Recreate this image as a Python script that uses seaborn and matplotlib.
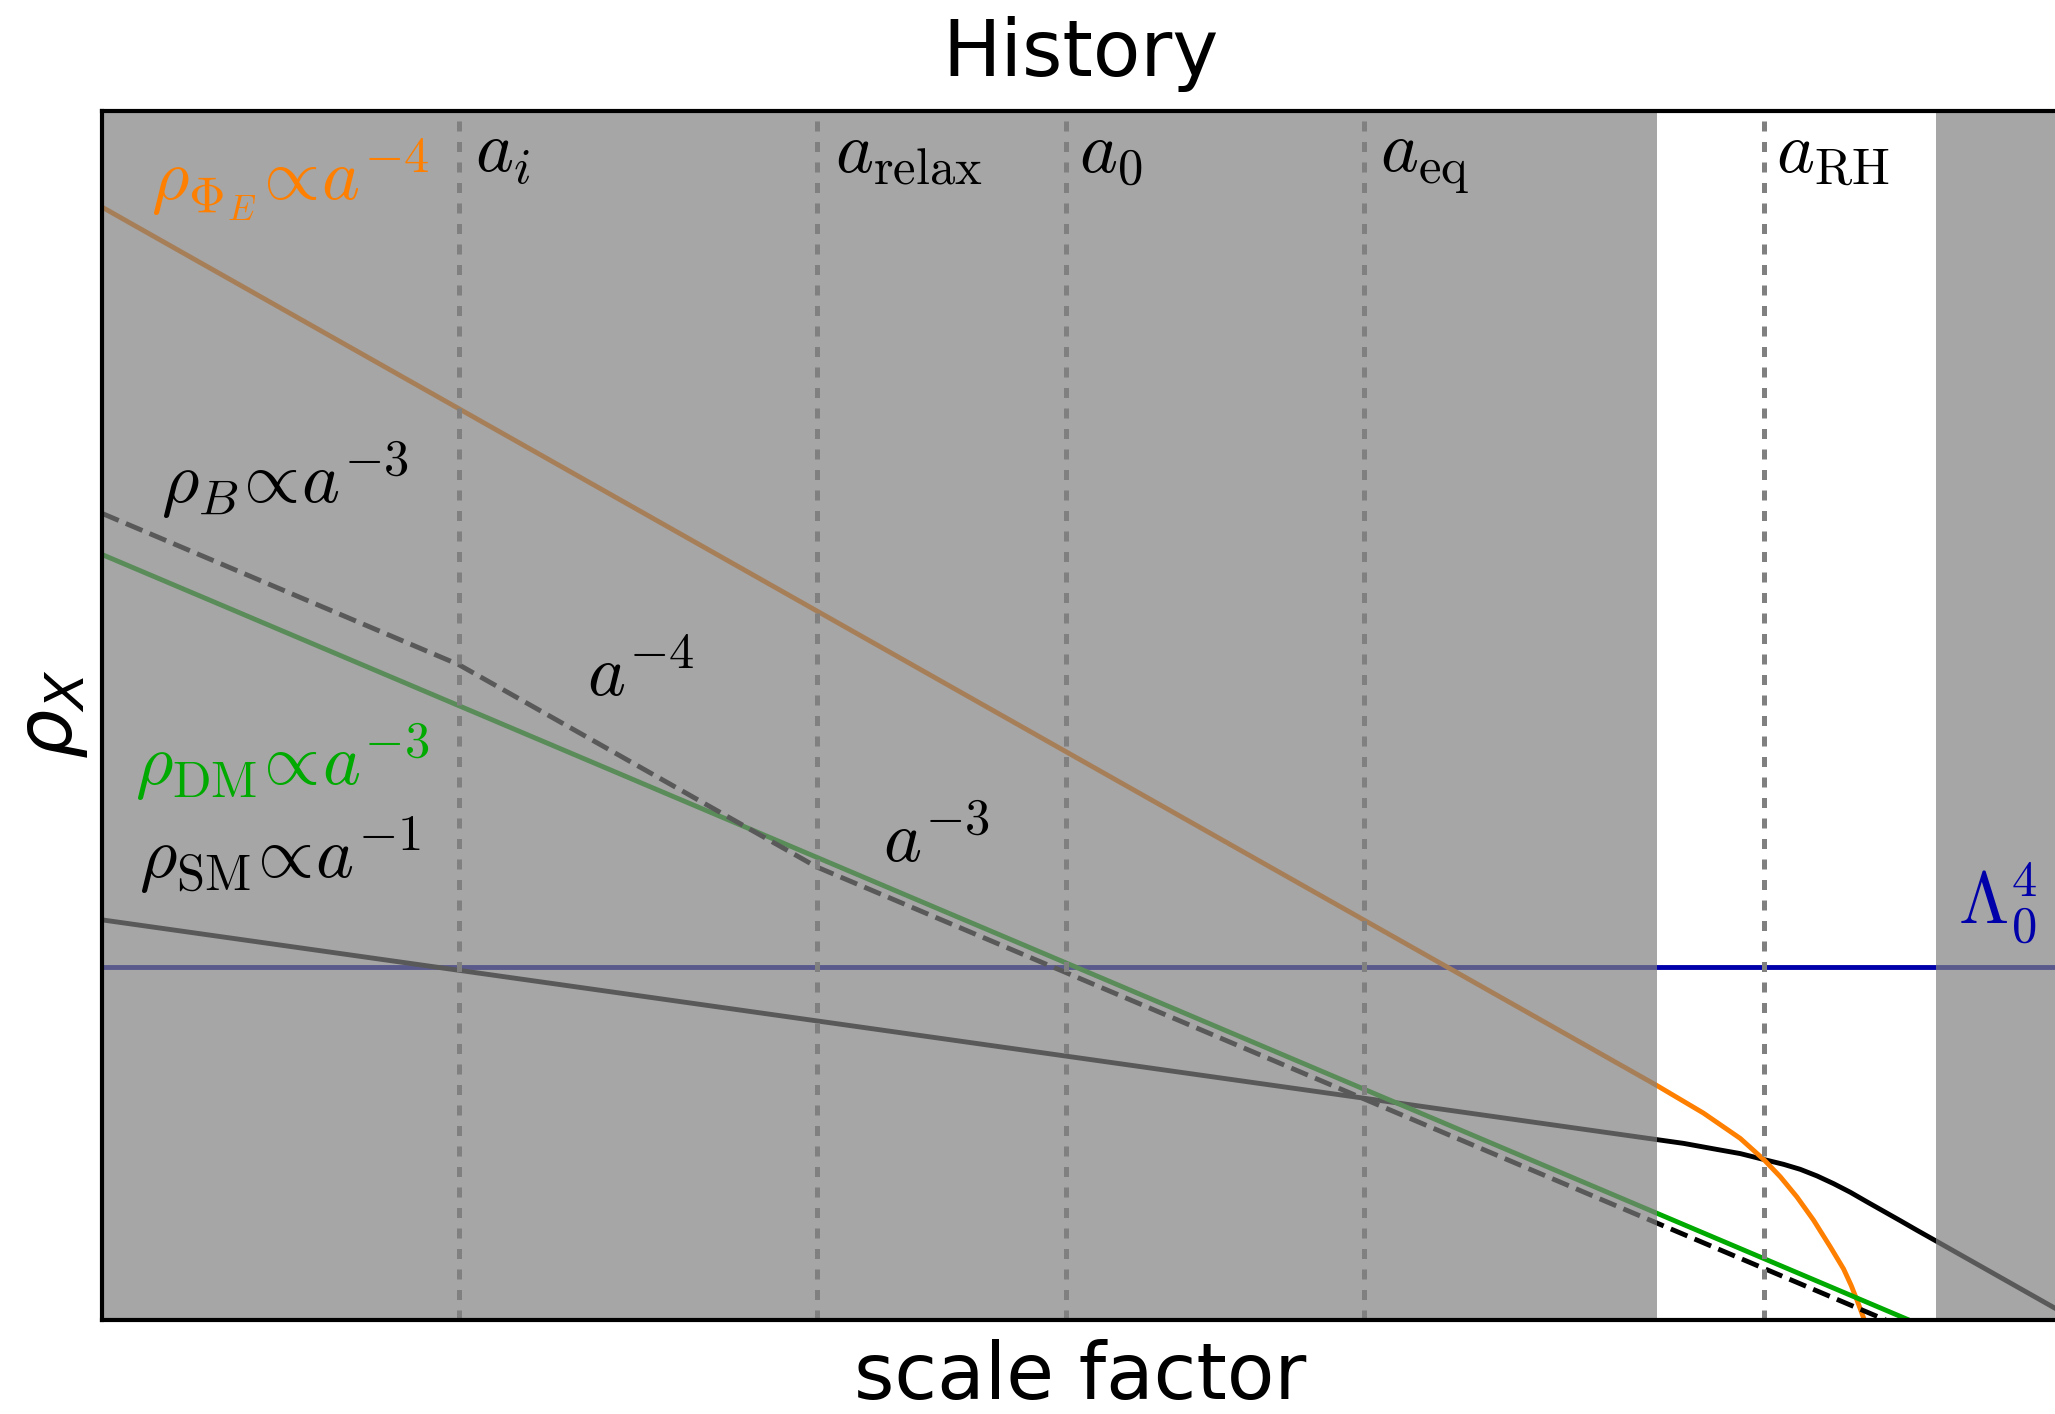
import matplotlib
matplotlib.use("Agg")
import matplotlib.pyplot as plt
import seaborn as sns
import pandas as pd

# ---------------- data (log scale factor, log density; arbitrary units) ----------------
orange_x = [0.0, 7.957, 8.198, 8.387, 8.511, 8.592, 8.677, 8.762, 8.848, 8.916, 8.955, 8.990, 9.025]
orange_y = [40.33, 8.51, 7.50, 6.58, 5.79, 5.19, 4.46, 3.62, 2.65, 1.85, 1.25, 0.62, -0.05]

sm_x = [0.0, 7.957, 8.097, 8.268, 8.387, 8.511, 8.609, 8.694, 8.780, 8.865, 8.950,
        9.036, 9.121, 9.206, 9.292, 9.390, 10.1]
sm_y = [14.50, 6.54, 6.40, 6.18, 6.03, 5.81, 5.64, 5.46, 5.22, 4.94, 4.63,
        4.28, 3.94, 3.60, 3.25, 2.86, 0.02]

dm_x = [0.0, 9.25]
dm_y = [27.74, 0.0]

b_x = [0.0, 1.826, 3.658, 9.131]
b_y = [29.23, 23.75, 16.42, 0.0]

lam_x = [0.0, 10.1]
lam_y = [12.78, 12.78]

epoch_x = [1.826, 3.658, 4.933, 6.463, 8.510]
epoch_labels = [r"$a_i$", r"$a_{\rm relax}$", r"$a_0$", r"$a_{\rm eq}$", r"$a_{\rm RH}$"]
epoch_label_x = [1.91, 3.75, 5.00, 6.54, 8.57]

white_lo, white_hi = 7.960, 9.389

# ---------------- style ----------------
sns.set_style("white")
plt.rcParams["font.family"] = ["DejaVu Sans"]
plt.rcParams["mathtext.fontset"] = "cm"
plt.rcParams["text.color"] = "black"

fig = plt.figure(figsize=(20.55, 14.14), dpi=100)
ax = fig.add_axes([0.0497, 0.0665, 0.9533, 0.8547])

ORANGE = "#ff7f00"
GREEN = "#00aa00"
BLUE = "#0000aa"
LW = 3.5

def line(xs, ys, color, ls="-"):
    df = pd.DataFrame({"x": xs, "y": ys})
    sns.lineplot(data=df, x="x", y="y", color=color, lw=LW, ls=ls,
                 estimator=None, sort=False, ax=ax, zorder=2)

line(lam_x, lam_y, BLUE)
line(sm_x, sm_y, "black")
line(orange_x, orange_y, ORANGE)
line(dm_x, dm_y, GREEN)
line(b_x, b_y, "black", ls="--")

# vertical epoch markers
for xv in epoch_x:
    ax.axvline(xv, color="gray", lw=3.6, ls=(0, (2.0, 2.1)), zorder=2.2)

# shaded (gray) regions overlaid on the curves
ax.axvspan(-1, white_lo, color="gray", alpha=0.7, lw=0, zorder=2.5)
ax.axvspan(white_hi, 11, color="gray", alpha=0.7, lw=0, zorder=2.5)

ax.set_xlim(0, 10.03)
ax.set_ylim(0, 43.8)
ax.set_xticks([])
ax.set_yticks([])
ax.set_xlabel("")
ax.set_ylabel("")
for s in ["left", "top", "bottom"]:
    ax.spines[s].set_linewidth(3)
    ax.spines[s].set_color("black")
ax.spines["right"].set_visible(False)

FS = 52
for xl, lab in zip(epoch_label_x, epoch_labels):
    ax.text(xl, 41.6, lab, fontsize=FS, color="black", va="baseline", ha="left", zorder=4)

ax.text(0.25, 40.6, r"$\rho_{\Phi_E}\!\propto\!a^{-4}$", fontsize=FS, color=ORANGE,
        va="baseline", ha="left", zorder=4)
ax.text(0.30, 29.6, r"$\rho_B\!\propto\!a^{-3}$", fontsize=FS, color="black",
        va="baseline", ha="left", zorder=4)
ax.text(2.48, 22.6, r"$a^{-4}$", fontsize=FS, color="black", va="baseline", ha="left", zorder=4)
ax.text(0.17, 19.4, r"$\rho_{\rm DM}\!\propto\!a^{-3}$", fontsize=FS, color=GREEN,
        va="baseline", ha="left", zorder=4)
ax.text(4.0, 16.6, r"$a^{-3}$", fontsize=FS, color="black", va="baseline", ha="left", zorder=4)
ax.text(0.19, 16.0, r"$\rho_{\rm SM}\!\propto\!a^{-1}$", fontsize=FS, color="black",
        va="baseline", ha="left", zorder=4)
ax.text(9.50, 14.35, r"$\Lambda_0^4$", fontsize=FS, color=BLUE, va="baseline", ha="left", zorder=4)

fig.text(0.5256, 0.9463, "History", fontsize=56, ha="center", va="baseline", color="black")
fig.text(0.5256, 0.0105, "scale factor", fontsize=56, ha="center", va="baseline", color="black")
fig.text(0.0255, 0.495, r"$\rho_X$", fontsize=56, ha="center", va="center", rotation=90,
         math_fontfamily="dejavusans", color="black")

fig.savefig("out.png", dpi=100)
